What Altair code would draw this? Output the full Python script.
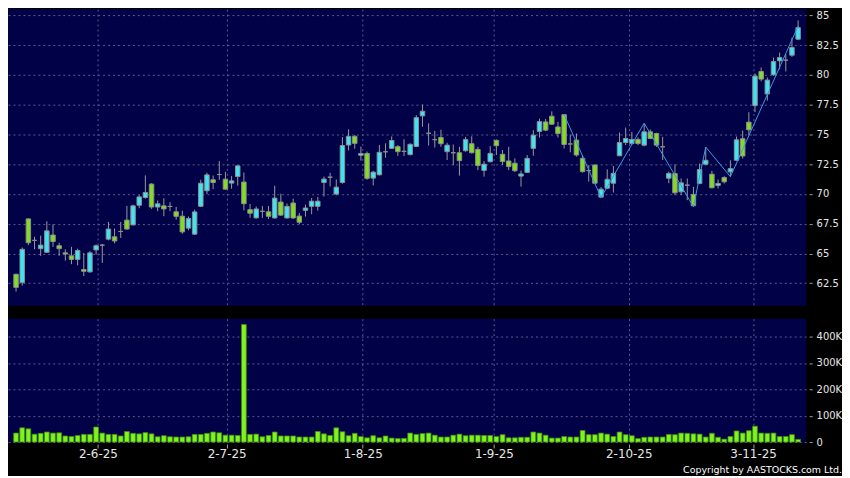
import altair as alt
import pandas as pd
import numpy as np

# ---- data (one entry per trading day) ----
OPEN = [63.25, 62.55, 67.9, 66.1, 65.4, 65.1, 66.55, 65.65, 65.05, 64.8,
        64.5, 63.65, 63.45, 65.3, 65.7, 66.2, 66.4, 66.85, 67.8, 67.4,
        69.05, 69.7, 70.83, 68.9, 69.0, 68.95, 68.5, 68.13, 67.13, 66.62,
        68.96, 70.27, 71.19, 71.63, 71.24, 70.91, 71.46, 71.0, 68.68, 67.99,
        68.54, 68.5, 67.98, 69.32, 67.98, 69.24, 68.14, 68.62, 68.96, 68.96,
        70.96, 71.41, 69.99, 70.96, 74.11, 74.84, 73.25, 73.4, 71.33, 71.61,
        73.54, 73.83, 73.97, 73.58, 73.3, 73.99, 76.56, 75.1, 74.56, 74.75,
        73.55, 73.46, 73.46, 73.63, 74.22, 73.74, 71.98, 72.71, 74.5, 73.33,
        72.77, 72.58, 71.5, 71.81, 73.83, 75.25, 76.05, 76.53, 75.63, 76.66,
        74.2, 74.52, 72.99, 71.96, 72.43, 69.73, 70.48, 70.9, 73.21, 74.32,
        74.24, 74.58, 74.1, 75.22, 75.08, 73.96, 71.32, 71.71, 70.18, 70.74,
        69.96, 70.88, 72.49, 71.66, 70.71, 71.38, 71.85, 72.83, 74.64, 76.03,
        77.42, 80.29, 78.4, 80.01, 81.18, 81.24, 81.66, 83.0]
HIGH = [63.3, 65.5, 67.95, 66.4, 66.5, 67.7, 67.45, 65.9, 65.35, 65.55,
        65.4, 65.05, 65.2, 65.75, 65.8, 67.65, 67.1, 67.65, 69.0, 69.1,
        69.9, 71.56, 70.9, 69.45, 69.63, 69.3, 68.91, 68.6, 68.1, 68.68,
        71.2, 71.78, 71.55, 72.77, 71.86, 71.5, 72.44, 71.8, 69.16, 68.95,
        68.98, 68.98, 70.69, 70.02, 69.2, 69.6, 68.41, 69.1, 69.66, 69.75,
        71.46, 71.77, 71.22, 74.78, 75.43, 74.95, 73.98, 73.56, 71.95, 74.12,
        74.25, 74.84, 74.1, 74.6, 74.25, 76.62, 77.51, 75.93, 75.3, 75.4,
        74.3, 74.15, 73.96, 74.8, 74.85, 73.96, 72.77, 74.02, 74.58, 73.69,
        73.96, 72.99, 71.96, 73.27, 75.36, 76.33, 76.3, 76.94, 76.05, 76.66,
        75.0, 75.08, 73.27, 72.43, 72.49, 70.57, 72.07, 72.35, 75.16, 75.58,
        75.2, 74.75, 75.9, 75.41, 75.14, 74.8, 71.87, 72.49, 71.3, 71.3,
        70.6, 72.55, 73.94, 71.94, 71.21, 71.49, 72.83, 74.83, 75.33, 76.87,
        80.13, 80.63, 79.79, 81.46, 81.88, 81.74, 83.13, 84.58]
LOW = [61.8, 62.3, 65.7, 65.35, 64.8, 65.05, 65.55, 64.8, 64.4, 64.1,
       64.0, 63.1, 63.4, 64.9, 64.2, 66.1, 65.85, 66.3, 67.0, 67.35,
       68.8, 69.6, 68.75, 68.55, 68.13, 68.55, 67.85, 66.65, 66.95, 66.55,
       68.9, 69.99, 70.41, 71.19, 70.36, 70.44, 70.7, 68.62, 67.99, 67.93,
       67.98, 67.9, 67.93, 68.15, 67.93, 67.9, 67.45, 68.1, 68.3, 68.6,
       69.79, 70.63, 69.88, 70.86, 73.66, 73.8, 72.8, 71.19, 70.71, 71.55,
       73.05, 73.78, 73.2, 73.18, 73.25, 73.95, 75.64, 74.06, 73.9, 73.96,
       72.85, 72.43, 71.54, 73.55, 73.4, 72.0, 71.46, 72.65, 73.27, 72.43,
       72.0, 71.84, 70.62, 71.76, 73.21, 74.74, 75.27, 75.8, 74.74, 73.82,
       73.5, 73.13, 71.8, 71.04, 70.85, 69.7, 70.4, 70.12, 73.18, 74.1,
       74.1, 74.1, 74.0, 74.6, 73.96, 72.85, 70.9, 69.9, 69.9, 69.48,
       68.93, 70.82, 72.4, 70.46, 70.46, 70.88, 71.45, 72.77, 72.97, 74.92,
       76.87, 79.45, 77.84, 79.93, 80.48, 80.29, 81.52, 82.92]
CLOSE = [62.15, 65.35, 65.9, 66.1, 65.7, 66.9, 66.0, 65.4, 64.95, 64.5,
         65.25, 63.5, 65.05, 65.65, 65.7, 67.05, 66.05, 66.85, 67.05, 69.0,
         69.75, 70.12, 68.9, 69.17, 68.74, 68.95, 68.12, 66.81, 67.93, 68.49,
         70.9, 71.6, 70.96, 71.63, 70.4, 71.1, 72.36, 69.18, 68.38, 68.74,
         68.54, 68.12, 69.65, 68.22, 68.96, 67.98, 67.62, 68.82, 69.39, 69.39,
         71.25, 71.41, 70.57, 74.07, 74.84, 74.25, 73.4, 71.31, 71.83, 73.5,
         73.54, 74.49, 73.55, 73.58, 74.17, 76.41, 76.95, 75.1, 74.56, 74.22,
         74.1, 73.46, 72.8, 74.58, 73.46, 72.38, 72.5, 73.41, 74.05, 72.72,
         72.3, 71.95, 71.68, 72.99, 74.94, 76.08, 75.36, 75.86, 75.08, 74.16,
         74.2, 73.27, 71.87, 71.96, 70.9, 70.4, 71.23, 71.73, 74.32, 74.66,
         74.58, 74.24, 75.22, 74.66, 74.1, 73.96, 71.73, 70.1, 70.93, 70.74,
         69.01, 72.05, 72.83, 70.52, 70.88, 71.02, 72.13, 74.55, 73.19, 75.39,
         79.9, 79.65, 79.57, 81.13, 81.46, 81.24, 82.3, 83.97]
VOLUME_K = [34, 54, 50, 30, 33, 38, 34, 35, 23, 21,
            25, 29, 29, 57, 34, 29, 29, 23, 40, 33,
            31, 36, 31, 20, 24, 20, 19, 19, 20, 29,
            29, 33, 38, 35, 26, 26, 25, 446, 29, 30,
            20, 25, 38, 23, 23, 23, 19, 19, 19, 40,
            31, 25, 54, 39, 24, 33, 21, 16, 24, 16,
            23, 15, 13, 14, 34, 29, 32, 34, 26, 19,
            19, 26, 30, 24, 26, 26, 25, 25, 21, 28,
            16, 16, 18, 18, 38, 34, 26, 15, 15, 21,
            19, 19, 44, 28, 28, 34, 30, 21, 38, 28,
            24, 13, 18, 19, 19, 19, 29, 28, 34, 33,
            31, 30, 19, 33, 18, 11, 21, 42, 34, 43,
            60, 34, 33, 34, 21, 21, 28, 10]
ZZ_IDX = [89, 95, 102, 110, 112, 116, 127]
ZZ_PRICE = [76.66, 69.7, 75.95, 68.93, 73.94, 71.45, 84.1]
TICK_POS = [13.3, 34.2, 56.3, 77.6, 99.5, 119.7]
TICK_LABELS = ["2-6-25", "2-7-25", "1-8-25", "1-9-25", "2-10-25", "3-11-25"]
PRICE_TICKS = [62.5, 65, 67.5, 70, 72.5, 75, 77.5, 80, 82.5, 85]
VOL_TICKS = [0, 100, 200, 300, 400]
COPYRIGHT = "Copyright by AASTOCKS.com Ltd."

n = len(OPEN)
df = pd.DataFrame({"i": list(range(n)), "open": OPEN, "high": HIGH, "low": LOW,
                   "close": CLOSE, "vol": VOLUME_K})
df["dir"] = np.where(df["close"] > df["open"], "up",
                     np.where(df["close"] < df["open"], "down", "flat"))
zz = pd.DataFrame({"i": ZZ_IDX, "p": ZZ_PRICE})

CYAN = "#3fe3f2"
GREEN = "#82dc22"
GRAY = "#a8a8a8"
FONT = "DejaVu Sans"
W = 802
XDOM = [-0.5, n - 0.5]

label_expr = " : ".join(f"datum.value == {v} ? '{t}'" for v, t in zip(TICK_POS, TICK_LABELS)) + " : ''"

xscale = alt.Scale(domain=XDOM, nice=False, zero=False)
x_price = alt.X("i:Q", scale=xscale,
                axis=alt.Axis(values=TICK_POS, labels=False, ticks=False, domain=False,
                              grid=True, title=None))
yscale_p = alt.Scale(domain=[60.61, 85.53], nice=False, zero=False)
y_axis_p = alt.Axis(orient="right", values=PRICE_TICKS, format=".1~f", title=None,
                    offset=3, tickSize=3, labelPadding=4, labelFontSize=10,
                    labelFlush=False, labelOverlap=False, grid=True, domain=False)
color = alt.Color("dir:N", scale=alt.Scale(domain=["up", "down", "flat"],
                                           range=[CYAN, GREEN, GRAY]), legend=None)

base = alt.Chart(df)
wicks = base.mark_rule(color="#9a9a9a", strokeWidth=1).encode(
    x=x_price,
    y=alt.Y("low:Q", scale=yscale_p, axis=y_axis_p),
    y2="high:Q",
)
bodies = base.mark_bar(size=4.5, stroke="#8e8e8e", strokeWidth=1).encode(
    x=x_price,
    y=alt.Y("open:Q", scale=yscale_p, axis=y_axis_p),
    y2="close:Q",
    color=color,
)
zigzag = alt.Chart(zz).mark_line(color="#3b9be0", strokeWidth=1).encode(
    x=x_price,
    y=alt.Y("p:Q", scale=yscale_p, axis=y_axis_p),
)
price = alt.layer(wicks, bodies, zigzag).properties(width=W, height=298)

x_vol = alt.X("i:Q", scale=xscale,
              axis=alt.Axis(values=TICK_POS, labelExpr=label_expr, labelFontSize=12,
                            tickSize=4, offset=2, labelPadding=1, grid=True, domain=False,
                            labelFlush=False, labelOverlap=False, title=None))
vbars = base.mark_bar(size=4.8, color="#80f21e", stroke="#3f8c10", strokeWidth=0.8).encode(
    x=x_vol,
    y=alt.Y("vol:Q", scale=alt.Scale(domain=[0, 468], nice=False),
            axis=alt.Axis(orient="right", values=VOL_TICKS, title=None,
                          labelExpr="datum.value == 0 ? '0' : datum.value + 'K'",
                          offset=3, tickSize=3, labelPadding=4, labelFontSize=10,
                          labelFlush=False, labelOverlap=False, grid=True, domain=False)),
)
copyright_txt = alt.Chart(pd.DataFrame({"t": [COPYRIGHT]})).mark_text(
    align="right", baseline="middle", font=FONT, fontSize=9.5, color="#ffffff"
).encode(text="t:N", x=alt.value(838), y=alt.value(152))
volume = alt.layer(vbars, copyright_txt).properties(width=W, height=124)

chart = alt.vconcat(price, volume, spacing=13).properties(
    background="#000000",
    padding={"left": 0, "top": 0, "right": 0, "bottom": 0},
).configure_view(
    fill="#010148", strokeWidth=0
).configure_axis(
    gridColor="#5c5c8c", gridDash=[2, 3], gridWidth=1,
    tickColor="#a0a0a0", labelColor="#e6e6e6", labelFont=FONT,
)

chart.save("out.html", embed_options={"renderer": "svg", "actions": False})
